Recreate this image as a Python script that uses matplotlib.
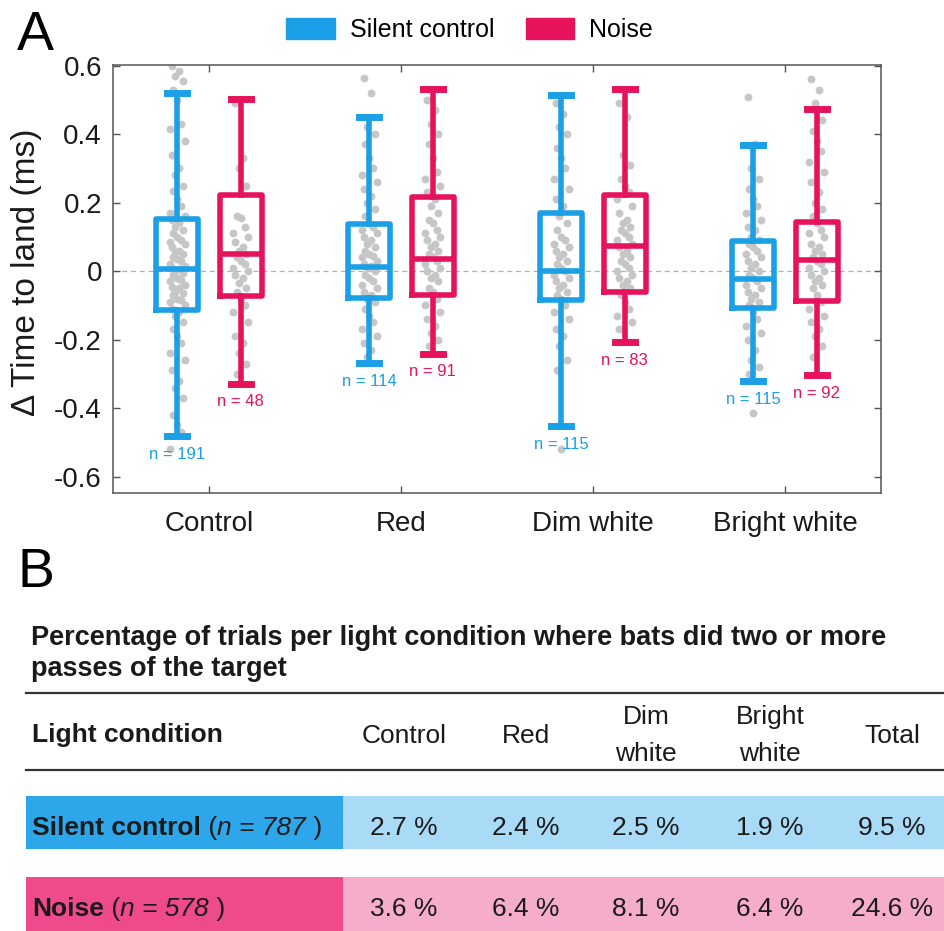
import numpy as np
import matplotlib
matplotlib.use("Agg")
import matplotlib.pyplot as plt
from matplotlib.patches import Patch, Rectangle

plt.rcParams["font.family"] = "Liberation Sans"

# ---- data: panel A (box stats, ms) ----
conditions = ["Control", "Red", "Dim white", "Bright white"]
silent_q1 = [-0.114, -0.078, -0.085, -0.107]
silent_med = [0.006, 0.013, 0.0, -0.023]
silent_q3 = [0.152, 0.137, 0.169, 0.088]
silent_lo = [-0.482, -0.269, -0.453, -0.321]
silent_hi = [0.520, 0.450, 0.514, 0.368]
silent_n = [191, 114, 115, 115]

noise_q1 = [-0.073, -0.070, -0.060, -0.088]
noise_med = [0.050, 0.035, 0.073, 0.032]
noise_q3 = [0.222, 0.217, 0.222, 0.144]
noise_lo = [-0.329, -0.241, -0.207, -0.304]
noise_hi = [0.503, 0.531, 0.531, 0.474]
noise_n = [48, 91, 83, 92]

# individual trials (approximate, visible points only)
ctrl_silent_pts = [0.60, 0.585, 0.57, 0.555, 0.53, 0.50, 0.43, 0.415, 0.38, 0.34, 0.30, 0.28,
                   0.25, 0.235, 0.21, 0.19, 0.17, 0.16, 0.15, 0.14, 0.13, 0.12, 0.11, 0.10,
                   0.09, 0.085, 0.08, 0.07, 0.06, 0.055, 0.05, 0.04, 0.035, 0.03, 0.02, 0.015,
                   0.01, 0.005, 0.0, -0.005, -0.01, -0.02, -0.025, -0.03, -0.04, -0.045, -0.05,
                   -0.06, -0.065, -0.07, -0.08, -0.085, -0.09, -0.10, -0.11, -0.12, -0.13,
                   -0.15, -0.17, -0.19, -0.21, -0.24, -0.26, -0.29, -0.32, -0.34, -0.37,
                   -0.42, -0.45, -0.47, -0.52]
ctrl_noise_pts = [0.49, 0.33, 0.30, 0.25, 0.16, 0.155, 0.13, 0.11, 0.10, 0.085, 0.07, 0.06,
                  0.05, 0.04, 0.03, 0.02, 0.01, 0.0, -0.01, -0.02, -0.035, -0.05, -0.06, -0.08,
                  -0.10, -0.12, -0.15, -0.19, -0.21, -0.24, -0.27, -0.30]
red_silent_pts = [0.565, 0.52, 0.42, 0.40, 0.37, 0.33, 0.30, 0.28, 0.26, 0.24, 0.22, 0.20,
                  0.18, 0.16, 0.14, 0.13, 0.12, 0.11, 0.10, 0.09, 0.08, 0.07, 0.06, 0.05,
                  0.045, 0.04, 0.03, 0.02, 0.015, 0.01, 0.0, -0.01, -0.02, -0.03, -0.04,
                  -0.05, -0.06, -0.07, -0.08, -0.09, -0.11, -0.13, -0.15, -0.17, -0.19,
                  -0.21, -0.23, -0.25]
red_noise_pts = [0.50, 0.47, 0.43, 0.40, 0.37, 0.33, 0.29, 0.27, 0.25, 0.23, 0.21, 0.19,
                 0.17, 0.15, 0.14, 0.12, 0.11, 0.10, 0.09, 0.08, 0.07, 0.06, 0.05, 0.04,
                 0.03, 0.02, 0.01, 0.0, -0.01, -0.02, -0.03, -0.05, -0.06, -0.08, -0.10,
                 -0.12, -0.14, -0.16, -0.18, -0.20, -0.22]
dim_silent_pts = [0.49, 0.46, 0.42, 0.40, 0.36, 0.33, 0.30, 0.27, 0.24, 0.21, 0.19, 0.16,
                  0.14, 0.12, 0.10, 0.09, 0.08, 0.07, 0.06, 0.05, 0.04, 0.03, 0.02, 0.01,
                  0.0, -0.01, -0.02, -0.03, -0.04, -0.05, -0.06, -0.07, -0.08, -0.10, -0.12,
                  -0.14, -0.17, -0.19, -0.22, -0.26, -0.29, -0.52]
dim_noise_pts = [0.49, 0.45, 0.34, 0.31, 0.27, 0.25, 0.23, 0.21, 0.19, 0.17, 0.15, 0.14,
                 0.13, 0.12, 0.11, 0.10, 0.09, 0.08, 0.07, 0.06, 0.05, 0.04, 0.03, 0.02,
                 0.01, 0.0, -0.01, -0.02, -0.03, -0.04, -0.05, -0.07, -0.09, -0.11, -0.13,
                 -0.15, -0.17]
bright_silent_pts = [0.51, 0.37, 0.30, 0.27, 0.24, 0.21, 0.19, 0.17, 0.15, 0.13, 0.12, 0.10,
                     0.09, 0.08, 0.07, 0.06, 0.05, 0.04, 0.03, 0.02, 0.01, 0.0, -0.01, -0.02,
                     -0.03, -0.04, -0.05, -0.06, -0.07, -0.08, -0.09, -0.10, -0.12, -0.14,
                     -0.16, -0.18, -0.20, -0.23, -0.26, -0.28, -0.30, -0.415]
bright_noise_pts = [0.56, 0.53, 0.49, 0.44, 0.41, 0.38, 0.35, 0.32, 0.29, 0.26, 0.23, 0.20,
                    0.18, 0.16, 0.14, 0.12, 0.11, 0.10, 0.08, 0.07, 0.06, 0.05, 0.04, 0.03,
                    0.02, 0.01, 0.0, -0.01, -0.02, -0.03, -0.04, -0.05, -0.07, -0.09, -0.11,
                    -0.13, -0.15, -0.17, -0.19, -0.22, -0.25]

silent_pts = [ctrl_silent_pts, red_silent_pts, dim_silent_pts, bright_silent_pts]
noise_pts = [ctrl_noise_pts, red_noise_pts, dim_noise_pts, bright_noise_pts]

yticks = [-0.6, -0.4, -0.2, 0, 0.2, 0.4, 0.6]
ytick_labels = ["-0.6", "-0.4", "-0.2", "0", "0.2", "0.4", "0.6"]

# ---- data: panel B table ----
table_title = ["Percentage of trials per light condition where bats did two or more",
               "passes of the target"]
table_cols = ["Control", "Red", "Dim\nwhite", "Bright\nwhite", "Total"]
silent_pct = ["2.7 %", "2.4 %", "2.5 %", "1.9 %", "9.5 %"]
noise_pct = ["3.6 %", "6.4 %", "8.1 %", "6.4 %", "24.6 %"]
silent_total_n = 787
noise_total_n = 578

BLUE = "#1b9fe6"
PINK = "#e6125c"
GREY_PT = "#c6c6c6"
TXT = "#1a1a1a"

fig = plt.figure(figsize=(9.45, 9.31), dpi=100)

# overlay axes in pixel coordinates for panel labels and the table
ax_t = fig.add_axes([0, 0, 1, 1])
ax_t.set_xlim(0, 945)
ax_t.set_ylim(931, 0)
ax_t.axis("off")

# ---- panel A ----
ax = fig.add_axes([113 / 945, 1 - 493 / 931, 768 / 945, 428 / 931])
ax.set_xlim(0.5, 4.5)
ax.set_ylim(-0.648, 0.602)
ax.axhline(0, color="#b0b0b0", lw=0.9, ls=(0, (4, 3)), zorder=0)

offset = 0.165
jitter = np.array([-0.6, 0.2, -0.2, 0.6, -0.4, 0.0, 0.4, -0.8, 0.8]) * 0.05
pos = np.arange(1, len(conditions) + 1)

for i in range(len(conditions)):
    for pts, dx in ((silent_pts[i], -offset), (noise_pts[i], offset)):
        xs = pos[i] + dx + np.resize(jitter, len(pts))
        ax.scatter(xs, pts, s=32, color=GREY_PT, linewidths=0, zorder=1)


def stats(q1, med, q3, lo, hi):
    return [dict(q1=a, med=b, q3=c, whislo=d, whishi=e, fliers=[])
            for a, b, c, d, e in zip(q1, med, q3, lo, hi)]


for st, p, col, ns in ((stats(silent_q1, silent_med, silent_q3, silent_lo, silent_hi), pos - offset, BLUE, silent_n),
                       (stats(noise_q1, noise_med, noise_q3, noise_lo, noise_hi), pos + offset, PINK, noise_n)):
    ax.bxp(st, positions=p, widths=0.22, capwidths=0.105, showfliers=False,
           boxprops=dict(color=col, lw=4),
           whiskerprops=dict(color=col, lw=4),
           capprops=dict(color=col, lw=5),
           medianprops=dict(color=col, lw=4),
           manage_ticks=False, zorder=2)
    for x, s, n in zip(p, st, ns):
        ax.annotate(f"n = {n}", (x, s["whislo"]), xytext=(0, -13), textcoords="offset points",
                    ha="center", va="center", fontsize=12, color=col)

ax.set_xticks(pos)
ax.set_xticklabels(conditions)
ax.set_yticks(yticks)
ax.set_yticklabels(ytick_labels)
ax.tick_params(direction="in", length=5, width=1, top=True, right=True, color="#555555",
               labelsize=20, labelcolor=TXT)
ax.tick_params(axis="y", pad=8)
ax.tick_params(axis="x", pad=13)
for sp in ax.spines.values():
    sp.set_color("#555555")
    sp.set_linewidth(1.1)
ax.set_ylabel("\u0394 Time to land (ms)", fontsize=24, color=TXT)
ax.yaxis.set_label_coords(-0.093, 0.515)

fig.legend(handles=[Patch(color=BLUE, label="Silent control"), Patch(color=PINK, label="Noise")],
           loc="center", bbox_to_anchor=(0.497, 1 - 30 / 931), ncol=2, frameon=False,
           fontsize=18, handlelength=1.95, handleheight=0.95, handletextpad=0.6,
           columnspacing=1.25)

ax_t.text(17, 50, "A", fontsize=40, color="black", va="baseline", ha="left")
ax_t.text(18, 587, "B", fontsize=40, color="black", va="baseline", ha="left")

# ---- panel B: table ----
ax_t.text(31, 645, table_title[0], fontsize=19.5, fontweight="bold", color=TXT, va="baseline")
ax_t.text(31, 676, table_title[1], fontsize=19.5, fontweight="bold", color=TXT, va="baseline")
ax_t.plot([26, 945], [693, 693], color="#333333", lw=1.6)
ax_t.plot([26, 945], [770, 770], color="#333333", lw=1.6)

col_x = [404, 526, 646, 770, 892]
ax_t.text(32, 742, "Light condition", fontsize=19, fontweight="bold", color=TXT, va="baseline")
for x, h in zip(col_x, table_cols):
    lines = h.split("\n")
    bases = [743] if len(lines) == 1 else [724, 761]
    for ln, b in zip(lines, bases):
        ax_t.text(x, b, ln, fontsize=19, color=TXT, ha="center", va="baseline")

renderer = fig.canvas.get_renderer()
rows = [("Silent control", silent_total_n, silent_pct, 796, 849, "#2ea6ea", "#a9daf6"),
        ("Noise", noise_total_n, noise_pct, 877, 940, "#ef4a8b", "#f6adcb")]
for name, n, vals, y0, y1, dark, light in rows:
    ax_t.add_patch(Rectangle((26, y0), 343 - 26, y1 - y0, color=dark, lw=0))
    ax_t.add_patch(Rectangle((343, y0), 945 - 343, y1 - y0, color=light, lw=0))
    base = y0 + 39
    x = 32
    for piece, kw in ((name, dict(fontweight="bold")), (" (", {}),
                      (f"n = {n}", dict(style="italic")), (" )", {})):
        t = ax_t.text(x, base, piece, fontsize=19, color=TXT, va="baseline", **kw)
        x += t.get_window_extent(renderer).width
    for cx, v in zip(col_x, vals):
        ax_t.text(cx, base, v, fontsize=19, color=TXT, ha="center", va="baseline")

fig.savefig("out.png", dpi=100)
